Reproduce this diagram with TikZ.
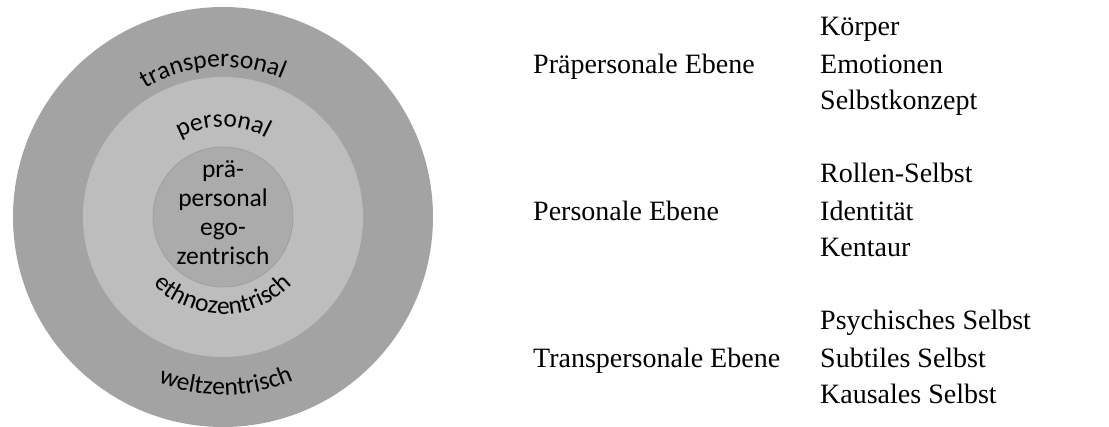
\documentclass[tikz,border=0pt]{standalone}
\usepackage{fontspec}
\setmainfont{Liberation Serif}
\newfontfamily\ringfont{Carlito}
\usetikzlibrary{decorations.text}

\definecolor{ringouter}{HTML}{A3A3A3}
\definecolor{ringmid}{HTML}{BDBDBD}
\definecolor{ringinner}{HTML}{ABABAB}
\definecolor{ringedge}{HTML}{9A9A9A}

\tikzset{
  level/.style={inner sep=0pt, anchor=base west, font=\fontsize{28}{37}\selectfont},
  item/.style={inner sep=0pt, anchor=base west, font=\fontsize{28}{37}\selectfont},
  ringlabel/.style={inner sep=0pt, align=center, font=\ringfont\fontsize{25.5}{29}\selectfont},
  bend text/.style={decorate, decoration={text along path, text align=center,
    text={|\ringfont\fontsize{25.5}{29}\selectfont|#1}}}
}

\begin{document}
\begin{tikzpicture}[x=1pt, y=1pt]
			\useasboundingbox (0,0) rectangle (1109,426);
			\coordinate (c) at (223,209);
			\fill[ringouter] (c) circle[radius=210];
			\fill[ringmid] (c) circle[radius=140];
			\draw[ringedge, fill=ringinner, line width=0.6pt] (c) circle[radius=70];
			% ring labels
			\node[ringlabel] (ego) at (223,213) {prä-\\personal\\ego-\\zentrisch};
			\path[bend text=transpersonal] ([shift={(164:150)}]c) arc[start angle=164, end angle=24, radius=150];
			\path[bend text=personal] ([shift={(160:90)}]c) arc[start angle=160, end angle=20, radius=90];
			\path[bend text=ethnozentrisch] ([shift={(200:97)}]c) arc[start angle=200, end angle=340, radius=97];
			\path[bend text=weltzentrisch] ([shift={(221:178)}]c) arc[start angle=221, end angle=321, radius=178];
			% levels and their stages
			\node[level] (prae) at (533,352) {Präpersonale Ebene};
			\node[level] (pers) at (533,205) {Personale Ebene};
			\node[level] (trans) at (533,59) {Transpersonale Ebene};
			\node[item] (koerper) at (820,390) {Körper};
			\node[item] (emotion) at (820,352) {Emotionen};
			\node[item] (konzept) at (820,316) {Selbstkonzept};
			\node[item] (rolle) at (820,243) {Rollen-Selbst};
			\node[item] (ident) at (820,205) {Identität};
			\node[item] (kentaur) at (820,169) {Kentaur};
			\node[item] (psych) at (820,96) {Psychisches Selbst};
			\node[item] (subtil) at (820,59) {Subtiles Selbst};
			\node[item] (kausal) at (820,23) {Kausales Selbst};
		\end{tikzpicture}
\end{document}
